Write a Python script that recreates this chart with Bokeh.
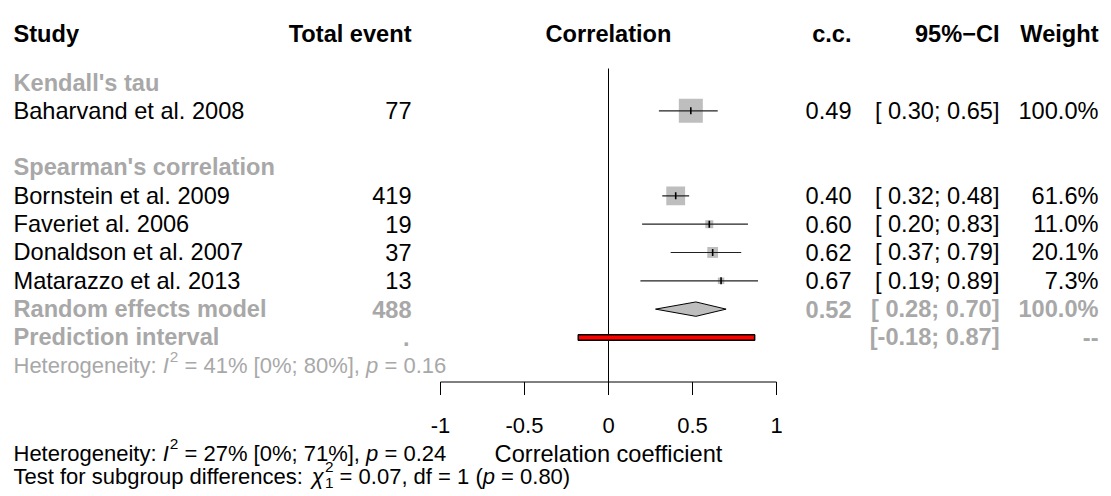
from math import sqrt
from bokeh.plotting import figure
from bokeh.models import Range1d
from bokeh.embed import file_html
from bokeh.resources import INLINE
from bokeh.core.properties import value

# ---------------- data ----------------
group_labels = ["Kendall's tau", "Spearman's correlation"]
studies = ["Baharvand et al. 2008", "Bornstein et al. 2009", "Faveriet al. 2006",
           "Donaldson et al. 2007", "Matarazzo et al. 2013"]
events = [77, 419, 19, 37, 13]
cc = [0.49, 0.40, 0.60, 0.62, 0.67]
ci_low = [0.30, 0.32, 0.20, 0.37, 0.19]
ci_high = [0.65, 0.48, 0.83, 0.79, 0.89]
weights = [100.0, 61.6, 11.0, 20.1, 7.3]

re_events = 488
re_cc = 0.52
re_low = 0.28
re_high = 0.70
re_weight = 100.0
pred_low = -0.18
pred_high = 0.87

het_I2 = [41, 27]
het_lo = [0, 0]
het_hi = [80, 71]
het_p = [0.16, 0.24]
test_chi2 = 0.07
test_df = 1
test_p = 0.80

axis_ticks = [-1, -0.5, 0, 0.5, 1]
axis_labels = ["-1", "-0.5", "0", "0.5", "1"]
headers = ["Study", "Total event", "Correlation", "c.c.", "95%\u2212CI", "Weight"]
axis_title = "Correlation coefficient"

# ---------------- layout / style ----------------
W, H = 1111, 496
X0, SCALE = 608, 168          # pixel of x=0 and pixels per unit
FONT = "Liberation Sans"
FS = 23.6                     # main text
HFS = 22                      # heterogeneity / test lines, tick labels
GRAY_TXT = "#A8A8A8"
GRAY_FILL = "#BEBEBE"


def px(p):
    return (p - X0) / SCALE


ROW0, DY = 82.0, 28.33


def row_y(k):
    return ROW0 + DY * k


HEADER_Y = 33
group_rows = [0, 3]
study_rows = [1, 4, 5, 6, 7]
RE_ROW, PRED_ROW, HET_ROW = 8, 9, 10
AXIS_Y = 381.5
TICK_LEN = 13
TICKLAB_Y = 425
BOT1_Y = 453
BOT2_Y = 476

COL_STUDY = 13
COL_EVENT = 411
COL_CC = 851
COL_CI = 999
COL_W = 1098

p = figure(width=W, height=H, x_range=Range1d(px(0), px(W)), y_range=Range1d(H, 0),
           output_backend="svg", toolbar_location=None, min_border=0,
           x_axis_type=None, y_axis_type=None)
p.outline_line_color = None
p.background_fill_color = "white"
p.border_fill_color = "white"
p.grid.visible = False


def txt(x_px, y, s, align="left", color="black", style="normal", size=FS):
    p.text(x=[px(x_px)], y=[y], text=[s], text_font=value(FONT),
           text_font_size=value(f"{size}px"), text_font_style=value(style),
           text_color=color, text_align=align, text_baseline="middle")


# Arial / Liberation Sans advance widths (1/1000 em)
WID = {' ': 278, '%': 889, '(': 333, ')': 333, ',': 278, '-': 333, '.': 278, ':': 278,
       ';': 278, '=': 584, '[': 278, ']': 278, 'H': 722, 'I': 278, 'T': 611,
       'a': 556, 'b': 556, 'c': 500, 'd': 556, 'e': 556, 'f': 278, 'g': 556, 'h': 556,
       'i': 222, 'l': 222, 'm': 833, 'n': 556, 'o': 556, 'p': 556, 'r': 333, 's': 500,
       't': 278, 'u': 556, 'y': 500, '\u03c7': 549}


def wid(s, size):
    return sum(WID.get(c, 556) for c in s) / 1000.0 * size


def runs(x_px, y, parts, color, size=HFS):
    x = x_px
    small = size * 0.7
    for s, kind in parts:
        if kind in ("n", "i"):
            lead = len(s) - len(s.lstrip(" "))
            txt(x + wid(" " * lead, size), y, s.strip(" "), color=color, size=size,
                style="italic" if kind == "i" else "normal")
            x += wid(s, size)
        elif kind == "sup":
            txt(x + 1, y - 0.42 * size, s, color=color, size=small)
            x += wid(s, small) + 1
        elif kind == "supsub":
            sup, sub = s
            txt(x + 1, y - 0.42 * size, sup, color=color, size=small)
            txt(x + 1, y + 0.3 * size, sub, color=color, size=small)
            x += max(wid(sup, small), wid(sub, small)) + 1


# ---------------- header ----------------
txt(COL_STUDY, HEADER_Y, headers[0], style="bold")
txt(COL_EVENT, HEADER_Y, headers[1], align="right", style="bold")
txt(X0, HEADER_Y, headers[2], align="center", style="bold")
txt(COL_CC, HEADER_Y, headers[3], align="right", style="bold")
txt(COL_CI, HEADER_Y, headers[4], align="right", style="bold")
txt(COL_W, HEADER_Y, headers[5], align="right", style="bold")

# ---------------- group labels ----------------
for g, r in zip(group_labels, group_rows):
    txt(COL_STUDY, row_y(r), g, color=GRAY_TXT, style="bold")

# ---------------- studies ----------------
ys = [row_y(r) for r in study_rows]
for s, e, c, lo, hi, w, y in zip(studies, events, cc, ci_low, ci_high, weights, ys):
    txt(COL_STUDY, y, s)
    txt(COL_EVENT, y, str(e), align="right")
    txt(COL_CC, y, f"{c:.2f}", align="right")
    txt(COL_CI, y, f"[{lo:5.2f}; {hi:4.2f}]", align="right")
    txt(COL_W, y, f"{w:.1f}%", align="right")

# zero line
p.segment(x0=[0], x1=[0], y0=[68], y1=[AXIS_Y], line_color="black", line_width=1)

# squares
p.scatter(x=cc, y=ys, size=[24 * sqrt(w / 100.0) for w in weights], marker="square",
          fill_color=GRAY_FILL, line_color=None)
# CI lines
p.segment(x0=ci_low, x1=ci_high, y0=ys, y1=ys, line_color="#222222", line_width=1.2)
# estimate ticks
p.segment(x0=cc, x1=cc, y0=[y - 3.5 for y in ys], y1=[y + 3.5 for y in ys],
          line_color="black", line_width=1.6)

# ---------------- random effects ----------------
yre = row_y(RE_ROW)
txt(COL_STUDY, yre, "Random effects model", color=GRAY_TXT, style="bold")
txt(COL_EVENT, yre, str(re_events), align="right", color=GRAY_TXT, style="bold")
txt(COL_CC, yre, f"{re_cc:.2f}", align="right", color=GRAY_TXT, style="bold")
txt(COL_CI, yre, f"[{re_low:5.2f}; {re_high:4.2f}]", align="right", color=GRAY_TXT, style="bold")
txt(COL_W, yre, f"{re_weight:.1f}%", align="right", color=GRAY_TXT, style="bold")
p.patch(x=[re_low, re_cc, re_high, re_cc], y=[yre, yre - 7.2, yre, yre + 7.2],
        fill_color=GRAY_FILL, line_color="black", line_width=1)

# ---------------- prediction interval ----------------
ypi = row_y(PRED_ROW)
txt(COL_STUDY, ypi, "Prediction interval", color=GRAY_TXT, style="bold")
txt(COL_EVENT - 2, ypi, ".", align="right", color=GRAY_TXT, style="bold")
txt(COL_CI, ypi, f"[{pred_low:5.2f}; {pred_high:4.2f}]", align="right", color=GRAY_TXT, style="bold")
txt(COL_W, ypi, "--", align="right", color=GRAY_TXT, style="bold")
p.quad(left=[pred_low], right=[pred_high], top=[ypi - 2.7], bottom=[ypi + 2.7],
       fill_color="red", line_color="black", line_width=1.5)

# ---------------- subgroup heterogeneity ----------------
runs(COL_STUDY, row_y(HET_ROW),
     [("Heterogeneity: ", "n"), ("I", "i"), ("2", "sup"),
      (f" = {het_I2[0]}% [{het_lo[0]}%; {het_hi[0]}%], ", "n"), ("p", "i"),
      (f" = {het_p[0]:.2f}", "n")], GRAY_TXT)

# ---------------- axis ----------------
p.segment(x0=[axis_ticks[0]], x1=[axis_ticks[-1]], y0=[AXIS_Y], y1=[AXIS_Y],
          line_color="black", line_width=1)
p.segment(x0=axis_ticks, x1=axis_ticks, y0=[AXIS_Y] * len(axis_ticks),
          y1=[AXIS_Y + TICK_LEN] * len(axis_ticks), line_color="black", line_width=1)
p.text(x=axis_ticks, y=[TICKLAB_Y] * len(axis_ticks), text=axis_labels,
       text_font=value(FONT), text_font_size=value(f"{HFS}px"), text_color="black",
       text_align="center", text_baseline="middle")
txt(X0, BOT1_Y, axis_title, align="center")

# ---------------- overall texts ----------------
runs(COL_STUDY, BOT1_Y,
     [("Heterogeneity: ", "n"), ("I", "i"), ("2", "sup"),
      (f" = {het_I2[1]}% [{het_lo[1]}%; {het_hi[1]}%], ", "n"), ("p", "i"),
      (f" = {het_p[1]:.2f}", "n")], "black")
runs(COL_STUDY, BOT2_Y,
     [("Test for subgroup differences: ", "n"), ("\u03c7", "i"), (("2", str(test_df)), "supsub"),
      (f" = {test_chi2:.2f}, df = {test_df} (", "n"), ("p", "i"),
      (f" = {test_p:.2f})", "n")], "black")

open("out.html", "w").write(file_html(p, INLINE))
